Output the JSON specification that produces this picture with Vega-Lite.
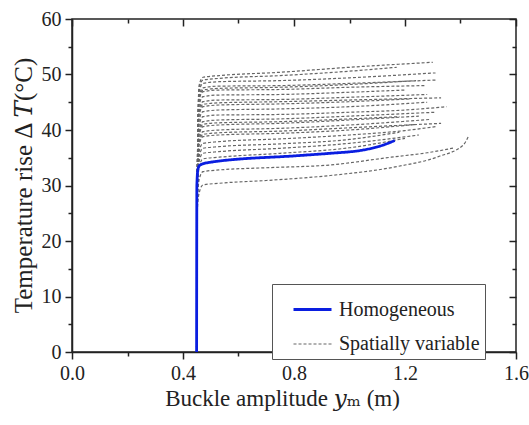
{
  "$schema": "https://vega.github.io/schema/vega-lite/v6.json",
  "width": 444,
  "height": 333,
  "autosize": {"type": "none"},
  "padding": {"left": 72, "top": 19, "right": 13, "bottom": 73},
  "background": "white",
  "config": {
    "view": {"stroke": "#222", "strokeWidth": 1.5},
    "axis": {
      "labelFont": "Times New Roman, Liberation Serif, DejaVu Serif, serif", "titleFont": "Times New Roman, Liberation Serif, DejaVu Serif, serif",
      "labelFontSize": 20, "titleFontWeight": "normal",
      "labelColor": "#222", "titleColor": "#222", "domainColor": "#222", "tickColor": "#222",
      "domainWidth": 1.5, "tickWidth": 1.5, "grid": false, "labelOverlap": false
    },
    "legend": {
      "orient": "none", "legendX": 200, "legendY": 265, "title": null,
      "symbolType": "stroke", "symbolSize": 1444, "symbolOffset": 15, "labelOffset": 6,
      "labelFont": "Times New Roman, Liberation Serif, DejaVu Serif, serif", "labelFontSize": 20, "labelColor": "#222",
      "padding": 5, "rowPadding": 4, "strokeColor": "#555", "fillColor": "white", "labelLimit": 300
    }
  },
  "datasets": {
    "spatial": [
      {"id":1,"case":"Spatially variable","x":0.449,"y":0},{"id":1,"case":"Spatially variable","x":0.45,"y":24},{"id":1,"case":"Spatially variable","x":0.458,"y":28.6},{"id":1,"case":"Spatially variable","x":0.472,"y":30.1},{"id":1,"case":"Spatially variable","x":0.53,"y":30.4},{"id":1,"case":"Spatially variable","x":0.7,"y":30.9},{"id":1,"case":"Spatially variable","x":0.93,"y":31.8},{"id":1,"case":"Spatially variable","x":1.17,"y":33.4},{"id":1,"case":"Spatially variable","x":1.32,"y":35.2},{"id":1,"case":"Spatially variable","x":1.41,"y":37.3},{"id":1,"case":"Spatially variable","x":1.43,"y":39.0},
      {"id":2,"case":"Spatially variable","x":0.449,"y":0},{"id":2,"case":"Spatially variable","x":0.45,"y":24},{"id":2,"case":"Spatially variable","x":0.458,"y":31.0},{"id":2,"case":"Spatially variable","x":0.472,"y":32.5},{"id":2,"case":"Spatially variable","x":0.53,"y":32.8},{"id":2,"case":"Spatially variable","x":0.7,"y":33.2},{"id":2,"case":"Spatially variable","x":0.93,"y":33.7},{"id":2,"case":"Spatially variable","x":1.15,"y":35.1},{"id":2,"case":"Spatially variable","x":1.28,"y":35.9},{"id":2,"case":"Spatially variable","x":1.38,"y":36.8},
      {"id":3,"case":"Spatially variable","x":0.449,"y":0},{"id":3,"case":"Spatially variable","x":0.45,"y":24},{"id":3,"case":"Spatially variable","x":0.458,"y":33.3},{"id":3,"case":"Spatially variable","x":0.472,"y":34.8},{"id":3,"case":"Spatially variable","x":0.53,"y":35.1},{"id":3,"case":"Spatially variable","x":0.75,"y":35.8},{"id":3,"case":"Spatially variable","x":1.0,"y":36.8},{"id":3,"case":"Spatially variable","x":1.2,"y":38.5},
      {"id":4,"case":"Spatially variable","x":0.449,"y":0},{"id":4,"case":"Spatially variable","x":0.45,"y":24},{"id":4,"case":"Spatially variable","x":0.458,"y":34.3},{"id":4,"case":"Spatially variable","x":0.472,"y":35.8},{"id":4,"case":"Spatially variable","x":0.53,"y":36.1},{"id":4,"case":"Spatially variable","x":0.75,"y":36.7},{"id":4,"case":"Spatially variable","x":1.0,"y":37.6},{"id":4,"case":"Spatially variable","x":1.25,"y":39.1},
      {"id":5,"case":"Spatially variable","x":0.449,"y":0},{"id":5,"case":"Spatially variable","x":0.45,"y":24},{"id":5,"case":"Spatially variable","x":0.458,"y":35.2},{"id":5,"case":"Spatially variable","x":0.472,"y":36.7},{"id":5,"case":"Spatially variable","x":0.53,"y":37.0},{"id":5,"case":"Spatially variable","x":0.75,"y":37.5},{"id":5,"case":"Spatially variable","x":1.0,"y":38.3},{"id":5,"case":"Spatially variable","x":1.18,"y":39.6},
      {"id":6,"case":"Spatially variable","x":0.449,"y":0},{"id":6,"case":"Spatially variable","x":0.45,"y":24},{"id":6,"case":"Spatially variable","x":0.458,"y":36.1},{"id":6,"case":"Spatially variable","x":0.472,"y":37.6},{"id":6,"case":"Spatially variable","x":0.53,"y":37.9},{"id":6,"case":"Spatially variable","x":0.75,"y":38.4},{"id":6,"case":"Spatially variable","x":1.0,"y":39.1},{"id":6,"case":"Spatially variable","x":1.2,"y":39.9},{"id":6,"case":"Spatially variable","x":1.31,"y":40.6},
      {"id":7,"case":"Spatially variable","x":0.449,"y":0},{"id":7,"case":"Spatially variable","x":0.45,"y":24},{"id":7,"case":"Spatially variable","x":0.458,"y":37.3},{"id":7,"case":"Spatially variable","x":0.472,"y":38.8},{"id":7,"case":"Spatially variable","x":0.53,"y":39.1},{"id":7,"case":"Spatially variable","x":0.75,"y":39.4},{"id":7,"case":"Spatially variable","x":1.0,"y":40.0},{"id":7,"case":"Spatially variable","x":1.24,"y":41.0},
      {"id":8,"case":"Spatially variable","x":0.449,"y":0},{"id":8,"case":"Spatially variable","x":0.45,"y":24},{"id":8,"case":"Spatially variable","x":0.458,"y":38.2},{"id":8,"case":"Spatially variable","x":0.472,"y":39.7},{"id":8,"case":"Spatially variable","x":0.53,"y":40.0},{"id":8,"case":"Spatially variable","x":0.75,"y":40.3},{"id":8,"case":"Spatially variable","x":1.0,"y":40.9},{"id":8,"case":"Spatially variable","x":1.29,"y":41.9},
      {"id":9,"case":"Spatially variable","x":0.449,"y":0},{"id":9,"case":"Spatially variable","x":0.45,"y":24},{"id":9,"case":"Spatially variable","x":0.458,"y":39.1},{"id":9,"case":"Spatially variable","x":0.472,"y":40.6},{"id":9,"case":"Spatially variable","x":0.53,"y":40.9},{"id":9,"case":"Spatially variable","x":0.75,"y":41.2},{"id":9,"case":"Spatially variable","x":1.0,"y":41.8},{"id":9,"case":"Spatially variable","x":1.25,"y":42.5},
      {"id":10,"case":"Spatially variable","x":0.449,"y":0},{"id":10,"case":"Spatially variable","x":0.45,"y":24},{"id":10,"case":"Spatially variable","x":0.458,"y":40.0},{"id":10,"case":"Spatially variable","x":0.472,"y":41.5},{"id":10,"case":"Spatially variable","x":0.53,"y":41.8},{"id":10,"case":"Spatially variable","x":0.75,"y":42.0},{"id":10,"case":"Spatially variable","x":1.0,"y":42.5},{"id":10,"case":"Spatially variable","x":1.31,"y":43.2},
      {"id":11,"case":"Spatially variable","x":0.449,"y":0},{"id":11,"case":"Spatially variable","x":0.45,"y":24},{"id":11,"case":"Spatially variable","x":0.458,"y":40.9},{"id":11,"case":"Spatially variable","x":0.472,"y":42.4},{"id":11,"case":"Spatially variable","x":0.53,"y":42.7},{"id":11,"case":"Spatially variable","x":0.75,"y":42.8},{"id":11,"case":"Spatially variable","x":1.0,"y":43.2},{"id":11,"case":"Spatially variable","x":1.2,"y":43.6},{"id":11,"case":"Spatially variable","x":1.35,"y":44.2},
      {"id":12,"case":"Spatially variable","x":0.449,"y":0},{"id":12,"case":"Spatially variable","x":0.45,"y":24},{"id":12,"case":"Spatially variable","x":0.458,"y":41.8},{"id":12,"case":"Spatially variable","x":0.472,"y":43.3},{"id":12,"case":"Spatially variable","x":0.53,"y":43.6},{"id":12,"case":"Spatially variable","x":0.75,"y":43.8},{"id":12,"case":"Spatially variable","x":1.0,"y":44.2},{"id":12,"case":"Spatially variable","x":1.28,"y":45.0},
      {"id":13,"case":"Spatially variable","x":0.449,"y":0},{"id":13,"case":"Spatially variable","x":0.45,"y":24},{"id":13,"case":"Spatially variable","x":0.458,"y":42.7},{"id":13,"case":"Spatially variable","x":0.472,"y":44.2},{"id":13,"case":"Spatially variable","x":0.53,"y":44.5},{"id":13,"case":"Spatially variable","x":0.75,"y":44.7},{"id":13,"case":"Spatially variable","x":1.0,"y":45.1},{"id":13,"case":"Spatially variable","x":1.22,"y":45.6},
      {"id":14,"case":"Spatially variable","x":0.449,"y":0},{"id":14,"case":"Spatially variable","x":0.45,"y":24},{"id":14,"case":"Spatially variable","x":0.458,"y":43.6},{"id":14,"case":"Spatially variable","x":0.472,"y":45.1},{"id":14,"case":"Spatially variable","x":0.53,"y":45.4},{"id":14,"case":"Spatially variable","x":0.75,"y":45.5},{"id":14,"case":"Spatially variable","x":1.0,"y":45.9},{"id":14,"case":"Spatially variable","x":1.28,"y":46.4},
      {"id":15,"case":"Spatially variable","x":0.449,"y":0},{"id":15,"case":"Spatially variable","x":0.45,"y":24},{"id":15,"case":"Spatially variable","x":0.458,"y":44.5},{"id":15,"case":"Spatially variable","x":0.472,"y":46.0},{"id":15,"case":"Spatially variable","x":0.53,"y":46.3},{"id":15,"case":"Spatially variable","x":0.75,"y":46.4},{"id":15,"case":"Spatially variable","x":1.0,"y":46.8},{"id":15,"case":"Spatially variable","x":1.2,"y":47.2},
      {"id":16,"case":"Spatially variable","x":0.449,"y":0},{"id":16,"case":"Spatially variable","x":0.45,"y":24},{"id":16,"case":"Spatially variable","x":0.458,"y":45.4},{"id":16,"case":"Spatially variable","x":0.472,"y":46.9},{"id":16,"case":"Spatially variable","x":0.53,"y":47.2},{"id":16,"case":"Spatially variable","x":0.75,"y":47.3},{"id":16,"case":"Spatially variable","x":1.0,"y":47.7},{"id":16,"case":"Spatially variable","x":1.27,"y":48.0},
      {"id":17,"case":"Spatially variable","x":0.449,"y":0},{"id":17,"case":"Spatially variable","x":0.45,"y":24},{"id":17,"case":"Spatially variable","x":0.458,"y":46.1},{"id":17,"case":"Spatially variable","x":0.472,"y":47.6},{"id":17,"case":"Spatially variable","x":0.53,"y":47.9},{"id":17,"case":"Spatially variable","x":0.75,"y":48.0},{"id":17,"case":"Spatially variable","x":1.0,"y":48.4},{"id":17,"case":"Spatially variable","x":1.31,"y":49.0},
      {"id":18,"case":"Spatially variable","x":0.449,"y":0},{"id":18,"case":"Spatially variable","x":0.45,"y":24},{"id":18,"case":"Spatially variable","x":0.458,"y":46.9},{"id":18,"case":"Spatially variable","x":0.472,"y":48.4},{"id":18,"case":"Spatially variable","x":0.53,"y":48.7},{"id":18,"case":"Spatially variable","x":0.75,"y":48.9},{"id":18,"case":"Spatially variable","x":1.0,"y":49.4},{"id":18,"case":"Spatially variable","x":1.31,"y":50.3},
      {"id":19,"case":"Spatially variable","x":0.449,"y":0},{"id":19,"case":"Spatially variable","x":0.45,"y":24},{"id":19,"case":"Spatially variable","x":0.458,"y":47.5},{"id":19,"case":"Spatially variable","x":0.472,"y":49.0},{"id":19,"case":"Spatially variable","x":0.53,"y":49.3},{"id":19,"case":"Spatially variable","x":0.75,"y":49.8},{"id":19,"case":"Spatially variable","x":1.0,"y":50.6},{"id":19,"case":"Spatially variable","x":1.17,"y":51.3},
      {"id":20,"case":"Spatially variable","x":0.449,"y":0},{"id":20,"case":"Spatially variable","x":0.45,"y":24},{"id":20,"case":"Spatially variable","x":0.458,"y":48.0},{"id":20,"case":"Spatially variable","x":0.472,"y":49.5},{"id":20,"case":"Spatially variable","x":0.53,"y":49.8},{"id":20,"case":"Spatially variable","x":0.75,"y":50.4},{"id":20,"case":"Spatially variable","x":1.0,"y":51.3},{"id":20,"case":"Spatially variable","x":1.3,"y":52.2},
      {"id":21,"case":"Spatially variable","x":0.449,"y":0},{"id":21,"case":"Spatially variable","x":0.45,"y":24},{"id":21,"case":"Spatially variable","x":0.458,"y":43.1},{"id":21,"case":"Spatially variable","x":0.472,"y":44.6},{"id":21,"case":"Spatially variable","x":0.53,"y":44.9},{"id":21,"case":"Spatially variable","x":0.75,"y":45.1},{"id":21,"case":"Spatially variable","x":1.0,"y":45.4},{"id":21,"case":"Spatially variable","x":1.33,"y":45.8},
      {"id":22,"case":"Spatially variable","x":0.449,"y":0},{"id":22,"case":"Spatially variable","x":0.45,"y":24},{"id":22,"case":"Spatially variable","x":0.458,"y":39.5},{"id":22,"case":"Spatially variable","x":0.472,"y":41.0},{"id":22,"case":"Spatially variable","x":0.53,"y":41.3},{"id":22,"case":"Spatially variable","x":0.75,"y":41.5},{"id":22,"case":"Spatially variable","x":1.0,"y":42.0},{"id":22,"case":"Spatially variable","x":1.18,"y":42.4},
      {"id":23,"case":"Spatially variable","x":0.449,"y":0},{"id":23,"case":"Spatially variable","x":0.45,"y":24},{"id":23,"case":"Spatially variable","x":0.458,"y":45.7},{"id":23,"case":"Spatially variable","x":0.472,"y":47.2},{"id":23,"case":"Spatially variable","x":0.53,"y":47.5},{"id":23,"case":"Spatially variable","x":0.75,"y":47.7},{"id":23,"case":"Spatially variable","x":1.0,"y":48.2},{"id":23,"case":"Spatially variable","x":1.24,"y":48.9},
      {"id":24,"case":"Spatially variable","x":0.449,"y":0},{"id":24,"case":"Spatially variable","x":0.45,"y":24},{"id":24,"case":"Spatially variable","x":0.458,"y":37.7},{"id":24,"case":"Spatially variable","x":0.472,"y":39.2},{"id":24,"case":"Spatially variable","x":0.53,"y":39.5},{"id":24,"case":"Spatially variable","x":0.75,"y":39.8},{"id":24,"case":"Spatially variable","x":1.0,"y":40.4},{"id":24,"case":"Spatially variable","x":1.33,"y":41.2}
    ],
    "homog": [
      {"id":0,"case":"Homogeneous","x":0.449,"y":0},
      {"id":0,"case":"Homogeneous","x":0.45,"y":30},
      {"id":0,"case":"Homogeneous","x":0.454,"y":33.0},
      {"id":0,"case":"Homogeneous","x":0.462,"y":33.7},
      {"id":0,"case":"Homogeneous","x":0.5,"y":34.2},
      {"id":0,"case":"Homogeneous","x":0.82,"y":35.4},
      {"id":0,"case":"Homogeneous","x":0.93,"y":35.8},
      {"id":0,"case":"Homogeneous","x":1.05,"y":36.4},
      {"id":0,"case":"Homogeneous","x":1.11,"y":37.1},
      {"id":0,"case":"Homogeneous","x":1.163,"y":38.1}
    ]
  },
  "layer": [
    {
      "data": {"name": "spatial"},
      "mark": {"type": "line", "interpolate": "monotone"},
      "encoding": {
        "x": {"field": "x", "type": "quantitative", "scale": {"domain": [0, 1.6], "nice": false},
          "axis": {
            "values": [0, 0.2, 0.4, 0.6, 0.8, 1.0, 1.2, 1.4, 1.6],
            "labelExpr": "abs(datum.value*2.5 - round(datum.value*2.5)) < 0.01 ? format(datum.value, '.1f') : ''",
            "tickSize": {"condition": {"test": "abs(datum.value*2.5 - round(datum.value*2.5)) < 0.01", "value": 7}, "value": 4},
            "labelPadding": 4, "labelFlush": false,
            "title": "Buckle amplitude 𝑦ₘ (m)", "titleFontSize": 23,
            "titleX": 210, "titleY": 53, "titleBaseline": "alphabetic", "titleAlign": "center"
          }},
        "y": {"field": "y", "type": "quantitative", "scale": {"domain": [0, 60], "nice": false},
          "axis": {
            "values": [0, 5, 10, 15, 20, 25, 30, 35, 40, 45, 50, 55, 60],
            "labelExpr": "datum.value % 10 === 0 ? datum.label : ''",
            "tickSize": {"condition": {"test": "datum.value % 10 === 0", "value": 7}, "value": 4},
            "labelPadding": 4,
            "title": "Temperature rise Δ 𝑇(°C)", "titleFontSize": 25,
            "titleX": -41, "titleY": 166, "titleAngle": 270, "titleBaseline": "alphabetic", "titleAlign": "center"
          }},
        "detail": {"field": "id", "type": "nominal"},
        "color": {"field": "case", "type": "nominal",
          "scale": {"domain": ["Homogeneous", "Spatially variable"], "range": ["#0a1ee0", "#666666"]},
          "legend": {"labelExpr": "datum.label + '\u00a0\u00a0\u00a0\u00a0'"}},
        "strokeDash": {"field": "case", "type": "nominal",
          "scale": {"domain": ["Homogeneous", "Spatially variable"], "range": [[1, 0], [3, 2]]},
          "legend": {"labelExpr": "datum.label + '\u00a0\u00a0\u00a0\u00a0'"}},
        "strokeWidth": {"field": "case", "type": "nominal",
          "scale": {"domain": ["Homogeneous", "Spatially variable"], "range": [2.8, 1.2]},
          "legend": {"labelExpr": "datum.label + '\u00a0\u00a0\u00a0\u00a0'"}}
      }
    },
    {
      "data": {"name": "homog"},
      "mark": {"type": "line", "interpolate": "monotone"},
      "encoding": {
        "x": {"field": "x", "type": "quantitative", "axis": null},
        "y": {"field": "y", "type": "quantitative", "axis": null},
        "color": {"field": "case", "type": "nominal"},
        "strokeDash": {"field": "case", "type": "nominal"},
        "strokeWidth": {"field": "case", "type": "nominal"}
      }
    },
    {
      "data": {"name": "homog"},
      "mark": {"type": "line", "opacity": 0},
      "encoding": {
        "x": {"field": "x", "type": "quantitative",
          "axis": {"orient": "top", "values": [0, 0.2, 0.4, 0.6, 0.8, 1.0, 1.2, 1.4, 1.6], "labels": false, "title": null, "domain": false,
            "tickSize": {"condition": {"test": "abs(datum.value*2.5 - round(datum.value*2.5)) < 0.01", "value": -7}, "value": -4}}},
        "y": {"field": "y", "type": "quantitative",
          "axis": {"orient": "right", "values": [0, 5, 10, 15, 20, 25, 30, 35, 40, 45, 50, 55, 60], "labels": false, "title": null, "domain": false,
            "tickSize": {"condition": {"test": "datum.value % 10 === 0", "value": -7}, "value": -4}}}
      }
    }
  ],
  "resolve": {"axis": {"x": "independent", "y": "independent"}}
}
